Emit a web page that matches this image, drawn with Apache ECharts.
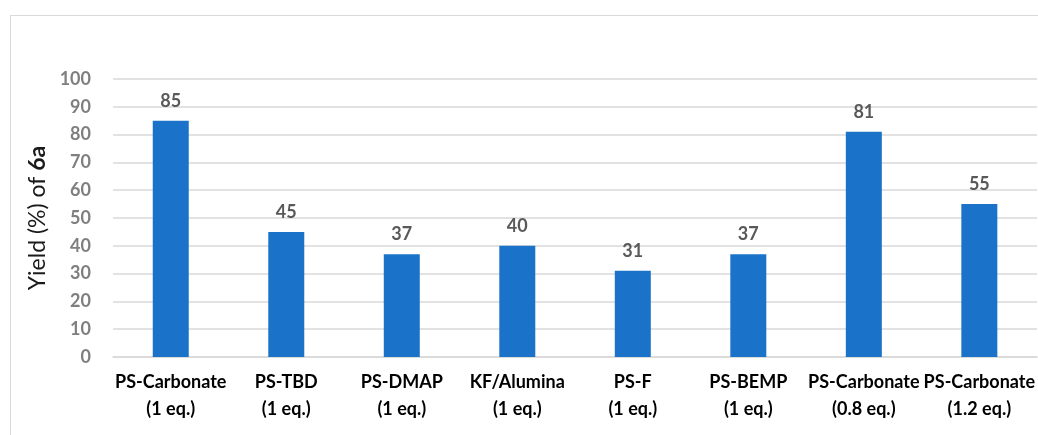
<!DOCTYPE html>
<html><head><meta charset="utf-8">
<script src="https://cdn.jsdelivr.net/npm/echarts@6/dist/echarts.min.js"></script>
<style>html,body{margin:0;padding:0;background:#fff}#frame{position:absolute;left:10px;top:15px;width:1100px;height:500px;border-left:1.5px solid #d9d9d9;border-top:1.5px solid #d9d9d9}#c{width:1038px;height:435px;position:absolute;left:0;top:0}</style>
</head><body><div id="frame"></div><div id="c"></div>
<script>
const categories = ['PS-Carbonate\n(1 eq.)','PS-TBD\n(1 eq.)','PS-DMAP\n(1 eq.)','KF/Alumina\n(1 eq.)','PS-F\n(1 eq.)','PS-BEMP\n(1 eq.)','PS-Carbonate\n(0.8 eq.)','PS-Carbonate\n(1.2 eq.)'];
const yields = [85,45,37,40,31,37,81,55];
const chart = echarts.init(document.getElementById('c'));
const F = 'Lato, "Open Sans", sans-serif';
chart.setOption({
  animation:false,
  grid:{left:113,right:0,top:79,bottom:78},
  xAxis:{type:'category',data:categories,
    axisLine:{lineStyle:{color:'#d9d9d9',width:1.5}},axisTick:{show:false},
    axisLabel:{interval:0,color:'#000',fontFamily:F,fontWeight:'bold',fontSize:18,lineHeight:27,margin:12}},
  yAxis:{type:'value',min:0,max:100,interval:10,
    name:'{a|Yield (%) of }{b|6a}',nameLocation:'middle',nameRotate:90,nameGap:64,
    nameTextStyle:{rich:{a:{fontFamily:F,fontSize:23,color:'#1a1a1a'},b:{fontFamily:F,fontSize:23,fontWeight:'bold',color:'#1a1a1a'}}},
    axisLine:{show:false},axisTick:{show:false},
    splitLine:{lineStyle:{color:'#d9d9d9',width:1.5}},
    axisLabel:{color:'#7f7f7f',fontFamily:F,fontWeight:'bold',fontSize:18,margin:22}},
  series:[{type:'bar',data:yields,barWidth:36,
    itemStyle:{color:'#1a73c8'},
    label:{show:true,position:'top',distance:11,color:'#595959',fontFamily:F,fontWeight:'bold',fontSize:18}}]
});
</script></body></html>
